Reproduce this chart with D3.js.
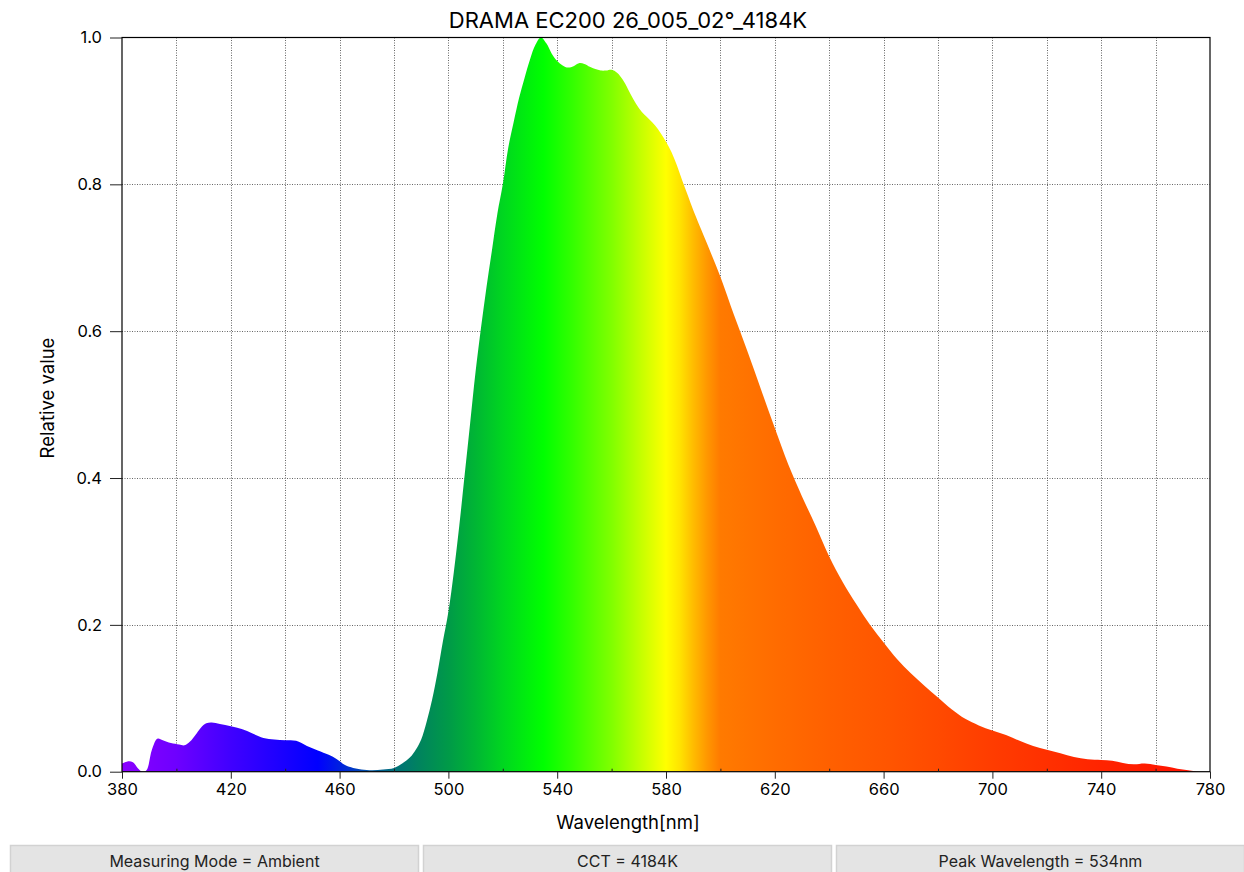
<!DOCTYPE html>
<html>
<head>
<meta charset="utf-8">
<script src="https://cdn.jsdelivr.net/npm/d3@7/dist/d3.min.js"></script>
<style>
  html, body { margin: 0; padding: 0; background: #fff; }
  svg { display: block; font-family: Inter, "Liberation Sans", Arial, sans-serif; }
</style>
</head>
<body>
<svg id="chart" width="1244" height="872"></svg>
<script>
const title = "DRAMA EC200 26_005_02°_4184K";
const xLabel = "Wavelength[nm]";
const yLabel = "Relative value";
const infoLabels = ["Measuring Mode = Ambient", "CCT = 4184K", "Peak Wavelength = 534nm"];

const xTicks = [380, 420, 460, 500, 540, 580, 620, 660, 700, 740, 780];
const xMinorTicks = [400, 440, 480, 520, 560, 600, 640, 680, 720, 760];
const yTicks = [0.0, 0.2, 0.4, 0.6, 0.8, 1.0];

const wavelengths = [380,382,384,386,387.5,389,391,393,395,398,401,403,405,407,409,411,413,416,420,424,428,432,436,440,444,448,452,456,459,462,465,468,472,476,480,483,486,488,490,492,494,496,498,500,502,504,506,508,510,512,514,516,518,520,522,524,526,528,530,532,534,536,538,540,542,544,546,548,550,552,554,556,558,560,562,564,566,568,570,572,574,576,578,580,582,584,586,588,590,595,600,605,610,615,620,625,630,635,640,645,650,655,660,665,670,675,680,685,690,695,700,705,710,715,720,725,730,735,740,744,748,752,756,760,764,768,772,776];
const values = [0.011,0.014,0.013,0.004,0.000,0.002,0.030,0.045,0.043,0.039,0.037,0.036,0.041,0.050,0.060,0.066,0.067,0.065,0.062,0.058,0.052,0.046,0.044,0.043,0.042,0.035,0.029,0.023,0.017,0.009,0.005,0.003,0.002,0.003,0.005,0.011,0.020,0.030,0.044,0.068,0.098,0.135,0.178,0.218,0.272,0.335,0.405,0.475,0.545,0.605,0.66,0.71,0.76,0.80,0.85,0.885,0.918,0.945,0.970,0.990,1.000,0.992,0.978,0.968,0.962,0.959,0.961,0.965,0.964,0.960,0.957,0.955,0.955,0.956,0.952,0.943,0.930,0.916,0.904,0.895,0.888,0.880,0.870,0.858,0.844,0.826,0.805,0.785,0.765,0.72,0.674,0.622,0.572,0.52,0.468,0.418,0.375,0.335,0.293,0.258,0.228,0.200,0.176,0.153,0.134,0.117,0.101,0.085,0.072,0.063,0.056,0.050,0.042,0.035,0.030,0.025,0.020,0.017,0.016,0.015,0.012,0.010,0.011,0.009,0.007,0.004,0.002,0.000];

// spectral colour stops (wavelength -> colour)
const colorWavelengths = [380,400,420,440,452,460,470,480,490,500,510,520,535,545,560,570,580,585,590,595,600,620,640,660,680,700,720,740,760,780];
const colorValues = ["#8a00ff","#6e00ff","#4000ff","#1800ff","#0000ff","#0020e0","#0050a8","#00707a","#00855c","#009a48","#00b634","#00d620","#00ff00","#30ff00","#80ff00","#c0ff00","#ffff00","#ffe400","#ffbc00","#ff9800","#ff7a00","#ff6c00","#ff6000","#ff5600","#ff4a00","#ff3c00","#ff3000","#ff2400","#ff1a00","#ff1000"];

const svg = d3.select("#chart");
const x = d3.scaleLinear().domain([380, 780]).range([122, 1210]);
const y = d3.scaleLinear().domain([0, 1]).range([771.7, 37.5]);

const defs = svg.append("defs");
const grad = defs.append("linearGradient")
  .attr("id", "spec")
  .attr("gradientUnits", "userSpaceOnUse")
  .attr("x1", x(380)).attr("x2", x(780)).attr("y1", 0).attr("y2", 0);
colorWavelengths.forEach((w, i) => {
  grad.append("stop").attr("offset", (w - 380) / 400).attr("stop-color", colorValues[i]);
});
defs.append("clipPath").attr("id", "plotclip").append("rect")
  .attr("x", x(380)).attr("y", y(1)).attr("width", x(780) - x(380)).attr("height", y(0) - y(1));

// grid
const grid = svg.append("g");
xMinorTicks.concat(xTicks.slice(1, -1)).forEach(w => {
  grid.append("line")
    .attr("x1", Math.round(x(w)) + 0.5).attr("x2", Math.round(x(w)) + 0.5)
    .attr("y1", y(1)).attr("y2", y(0))
    .attr("stroke", "#666").attr("stroke-width", 1).attr("stroke-dasharray", "1,1.5");
});
yTicks.slice(1, -1).forEach(v => {
  grid.append("line")
    .attr("x1", x(380)).attr("x2", x(780))
    .attr("y1", Math.round(y(v)) + 0.5).attr("y2", Math.round(y(v)) + 0.5)
    .attr("stroke", "#666").attr("stroke-width", 1).attr("stroke-dasharray", "1,1.5");
});

// area
const data = wavelengths.map((w, i) => ({w, v: values[i]}));
const area = d3.area()
  .x(d => x(d.w))
  .y0(y(0))
  .y1(d => y(Math.max(0, d.v)))
  .curve(d3.curveCatmullRom.alpha(0.5));
svg.append("path").datum(data).attr("d", area).attr("fill", "url(#spec)").attr("clip-path", "url(#plotclip)");

// frame
svg.append("rect")
  .attr("x", x(380)).attr("y", y(1))
  .attr("width", x(780) - x(380)).attr("height", y(0) - y(1))
  .attr("fill", "none").attr("stroke", "#000").attr("stroke-width", 1.2);

// x axis
const xAxis = d3.axisBottom(x).tickValues(xTicks).tickSize(7).tickPadding(5).tickFormat(d3.format("d"));
const gx = svg.append("g").attr("transform", `translate(0,${y(0)})`).call(xAxis);
gx.select(".domain").remove();
gx.selectAll("text").attr("font-size", 16.5).attr("fill", "#000").attr("font-family", "Inter, Liberation Sans, Arial, sans-serif");
gx.selectAll("line").attr("stroke", "#222");
const xMinor = d3.axisTop(x).tickValues(xMinorTicks).tickSize(3).tickFormat("");
const gxm = svg.append("g").attr("transform", `translate(0,${y(0)})`).call(xMinor);
gxm.select(".domain").remove();
gxm.selectAll("line").attr("stroke", "#222");

// y axis
const yAxis = d3.axisLeft(y).tickValues(yTicks).tickSize(12).tickPadding(8).tickFormat(d3.format(".1f"));
const gy = svg.append("g").attr("transform", `translate(${x(380)},0)`).call(yAxis);
gy.select(".domain").remove();
gy.selectAll("text").attr("font-size", 16.5).attr("fill", "#000").attr("font-family", "Inter, Liberation Sans, Arial, sans-serif");
gy.selectAll("line").attr("stroke", "#222");

// titles
svg.append("text").attr("x", 628).attr("y", 28).attr("text-anchor", "middle")
  .attr("font-size", 22).attr("fill", "#000").text(title);
svg.append("text").attr("x", 628).attr("y", 829).attr("text-anchor", "middle")
  .attr("font-size", 18.5).attr("fill", "#000").text(xLabel);
svg.append("text").attr("transform", "translate(54,398) rotate(-90)").attr("text-anchor", "middle")
  .attr("font-size", 18.5).attr("fill", "#000").text(yLabel);

// info boxes
const boxX = [10, 423, 836];
const boxW = 409;
infoLabels.forEach((t, i) => {
  svg.append("rect").attr("x", boxX[i] + 0.5).attr("y", 845.5).attr("width", boxW - 1).attr("height", 28)
    .attr("fill", "#e4e4e4").attr("stroke", "#d2d2d2").attr("stroke-width", 1.5);
  svg.append("text").attr("x", boxX[i] + boxW / 2).attr("y", 866.5).attr("text-anchor", "middle")
    .attr("font-size", 16).attr("fill", "#222").text(t);
});
</script>
</body>
</html>
